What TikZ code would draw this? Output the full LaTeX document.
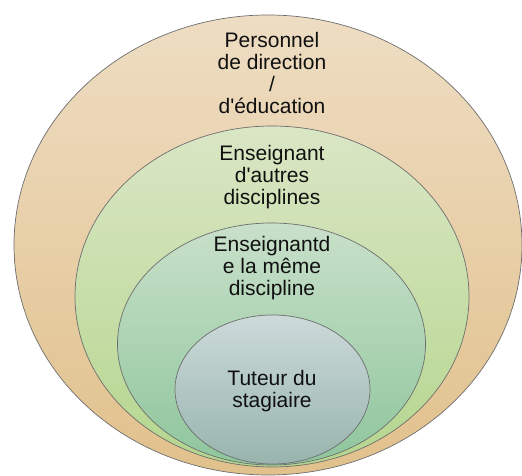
\documentclass[tikz,border=0pt]{standalone}
\usepackage{fontspec}
\setmainfont{Liberation Sans}
\usetikzlibrary{shapes.geometric, positioning}
\definecolor{SandTop}{HTML}{EEDDC3}
\definecolor{SandBot}{HTML}{E1C18C}
\definecolor{LeafTop}{HTML}{DAE6C5}
\definecolor{LeafBot}{HTML}{B5D68E}
\definecolor{MintTop}{HTML}{C9E0CA}
\definecolor{MintBot}{HTML}{8EC69C}
\definecolor{SlateTop}{HTML}{CCDADA}
\definecolor{SlateBot}{HTML}{98B4AD}
\definecolor{RimGray}{HTML}{6E6E6E}
\definecolor{InkBlack}{HTML}{101010}
\newcommand{\apos}{\textquotesingle}
\tikzset{
    ring/.style={ellipse, draw=RimGray, line width=0.7pt, inner sep=0pt},
    ringtext/.style={text=InkBlack, align=center, inner sep=0pt,
                     font=\fontsize{21}{22}\selectfont}
}

\begin{document}
\begin{tikzpicture}[x=1pt, y=1pt]
    \useasboundingbox (0,0) rectangle (522,476);

    % Nested rings, outermost first
    \node[ring, top color=SandTop, bottom color=SandBot,
          minimum width=508pt, minimum height=460pt] (direction) at (268,231) {};
    \node[ring, top color=LeafTop, bottom color=LeafBot,
          minimum width=394pt, minimum height=341pt] (autres) at (272,179.5) {};
    \node[ring, top color=MintTop, bottom color=MintBot,
          minimum width=308pt, minimum height=242pt] (meme) at (271.5,132) {};
    \node[ring, top color=SlateTop, bottom color=SlateBot,
          minimum width=195pt, minimum height=149pt] (tuteur) at (272.5,86.5) {};

    % Labels
    \node[ringtext] (directionlbl) at (272,403) {Personnel\\de direction\\/\\d\apos éducation};
    \node[ringtext] (autreslbl) at (272,299) {Enseignant\\d\apos autres\\disciplines};
    \node[ringtext] (memelbl) at (272,208) {Enseignantd\\e la même\\discipline};
    \node[ringtext] (tuteurlbl) at (272,85) {Tuteur du\\stagiaire};
\end{tikzpicture}
\end{document}
